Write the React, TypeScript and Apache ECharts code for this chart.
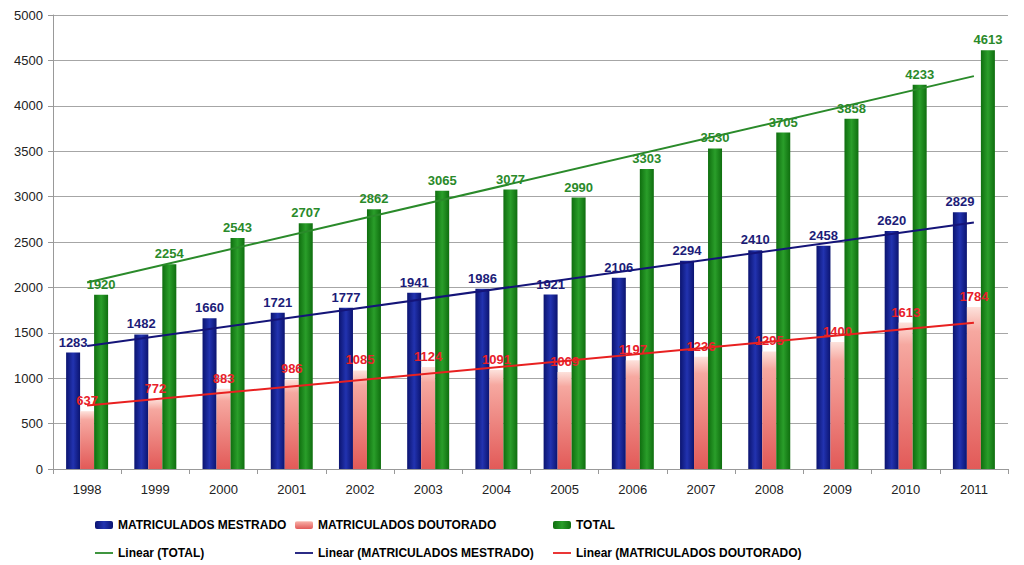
import React, { useEffect, useRef } from "react";
import * as echarts from "echarts";

const years = ["1998","1999","2000","2001","2002","2003","2004","2005","2006","2007","2008","2009","2010","2011"];
const mestrado = [1283,1482,1660,1721,1777,1941,1986,1921,2106,2294,2410,2458,2620,2829];
const doutorado = [637,772,883,986,1085,1124,1091,1069,1197,1236,1295,1400,1613,1784];
const total = [1920,2254,2543,2707,2862,3065,3077,2990,3303,3530,3705,3858,4233,4613];
// trend line endpoints (first and last year)
const trendTotal = [2053,4327];
const trendMestrado = [1354,2715];
const trendDoutorado = [699,1612];

const FONT = "'Liberation Sans', Arial, sans-serif";
const LINE_ICON = "path://M0,0 L20,0 L20,2 L0,2 Z";

function endpoints(pair: number[]) {
  return years.map((_, i) => (i === 0 ? pair[0] : i === years.length - 1 ? pair[1] : null));
}

const blueGrad = new echarts.graphic.LinearGradient(0, 0, 1, 0, [
  { offset: 0, color: "#0b1470" },
  { offset: 0.5, color: "#2233b0" },
  { offset: 1, color: "#0b1470" },
]);
const pinkGrad = new echarts.graphic.LinearGradient(0, 0, 0, 1, [
  { offset: 0, color: "#fde2dc" },
  { offset: 0.15, color: "#f6a8a0" },
  { offset: 1, color: "#e25a58" },
]);
const greenGrad = new echarts.graphic.LinearGradient(0, 0, 1, 0, [
  { offset: 0, color: "#0f6e0f" },
  { offset: 0.5, color: "#2a9e2a" },
  { offset: 1, color: "#0f6e0f" },
]);

export default function App() {
  const ref = useRef<HTMLDivElement>(null);
  useEffect(() => {
    const chart = echarts.init(ref.current!, null, { renderer: "svg" });
    const labelBase = { show: true, position: "top", fontFamily: FONT, fontWeight: "bold", fontSize: 13, distance: 4 };
    const legendText = { fontFamily: FONT, fontWeight: "bold", fontSize: 12, color: "#000" };
    const legendCommon = { orient: "vertical", itemGap: 16, itemWidth: 18, itemHeight: 8, textStyle: legendText, top: 514 };
    chart.setOption({
      animation: false,
      textStyle: { fontFamily: FONT },
      grid: { left: 53, right: 16, top: 15, bottom: 96 },
      legend: [
        { ...legendCommon, left: 90, data: ["MATRICULADOS MESTRADO", { name: "Linear (TOTAL)", icon: LINE_ICON }] },
        { ...legendCommon, left: 290, data: ["MATRICULADOS DOUTORADO", { name: "Linear (MATRICULADOS MESTRADO)", icon: LINE_ICON }] },
        { ...legendCommon, left: 548, data: ["TOTAL", { name: "Linear (MATRICULADOS DOUTORADO)", icon: LINE_ICON }] },
      ],
      xAxis: {
        type: "category",
        data: years,
        axisLine: { lineStyle: { color: "#999" } },
        axisTick: { show: true, lineStyle: { color: "#999" } },
        axisLabel: { color: "#222", fontSize: 13, fontFamily: FONT, margin: 14 },
      },
      yAxis: {
        type: "value",
        min: 0,
        max: 5000,
        interval: 500,
        axisLine: { show: true, lineStyle: { color: "#999" } },
        axisTick: { show: true, lineStyle: { color: "#999" } },
        splitLine: { lineStyle: { color: "#a6a6a6" } },
        axisLabel: { color: "#222", fontSize: 13, fontFamily: FONT, margin: 10, formatter: (v: number) => String(v) },
      },
      series: [
        {
          name: "MATRICULADOS MESTRADO", type: "bar", data: mestrado, barWidth: 14, barGap: "0%",
          itemStyle: { color: blueGrad },
          label: { ...labelBase, color: "#1c1c78" },
        },
        {
          name: "MATRICULADOS DOUTORADO", type: "bar", data: doutorado, barWidth: 14, barGap: "0%",
          itemStyle: { color: pinkGrad },
          label: { ...labelBase, color: "#e8202a" },
        },
        {
          name: "TOTAL", type: "bar", data: total, barWidth: 14, barGap: "0%",
          itemStyle: { color: greenGrad },
          label: { ...labelBase, color: "#2a8a2a" },
        },
        {
          name: "Linear (TOTAL)", type: "line", data: endpoints(trendTotal), connectNulls: true,
          symbol: "none", lineStyle: { color: "#2a8a2a", width: 2 }, itemStyle: { color: "#2a8a2a" }, z: 5,
        },
        {
          name: "Linear (MATRICULADOS MESTRADO)", type: "line", data: endpoints(trendMestrado), connectNulls: true,
          symbol: "none", lineStyle: { color: "#141478", width: 2 }, itemStyle: { color: "#141478" }, z: 5,
        },
        {
          name: "Linear (MATRICULADOS DOUTORADO)", type: "line", data: endpoints(trendDoutorado), connectNulls: true,
          symbol: "none", lineStyle: { color: "#e82020", width: 2 }, itemStyle: { color: "#e82020" }, z: 5,
        },
      ],
    });
    return () => chart.dispose();
  }, []);
  return <div ref={ref} style={{ position: "fixed", left: 0, top: 0, width: 1024, height: 565, background: "#fff" }} />;
}
